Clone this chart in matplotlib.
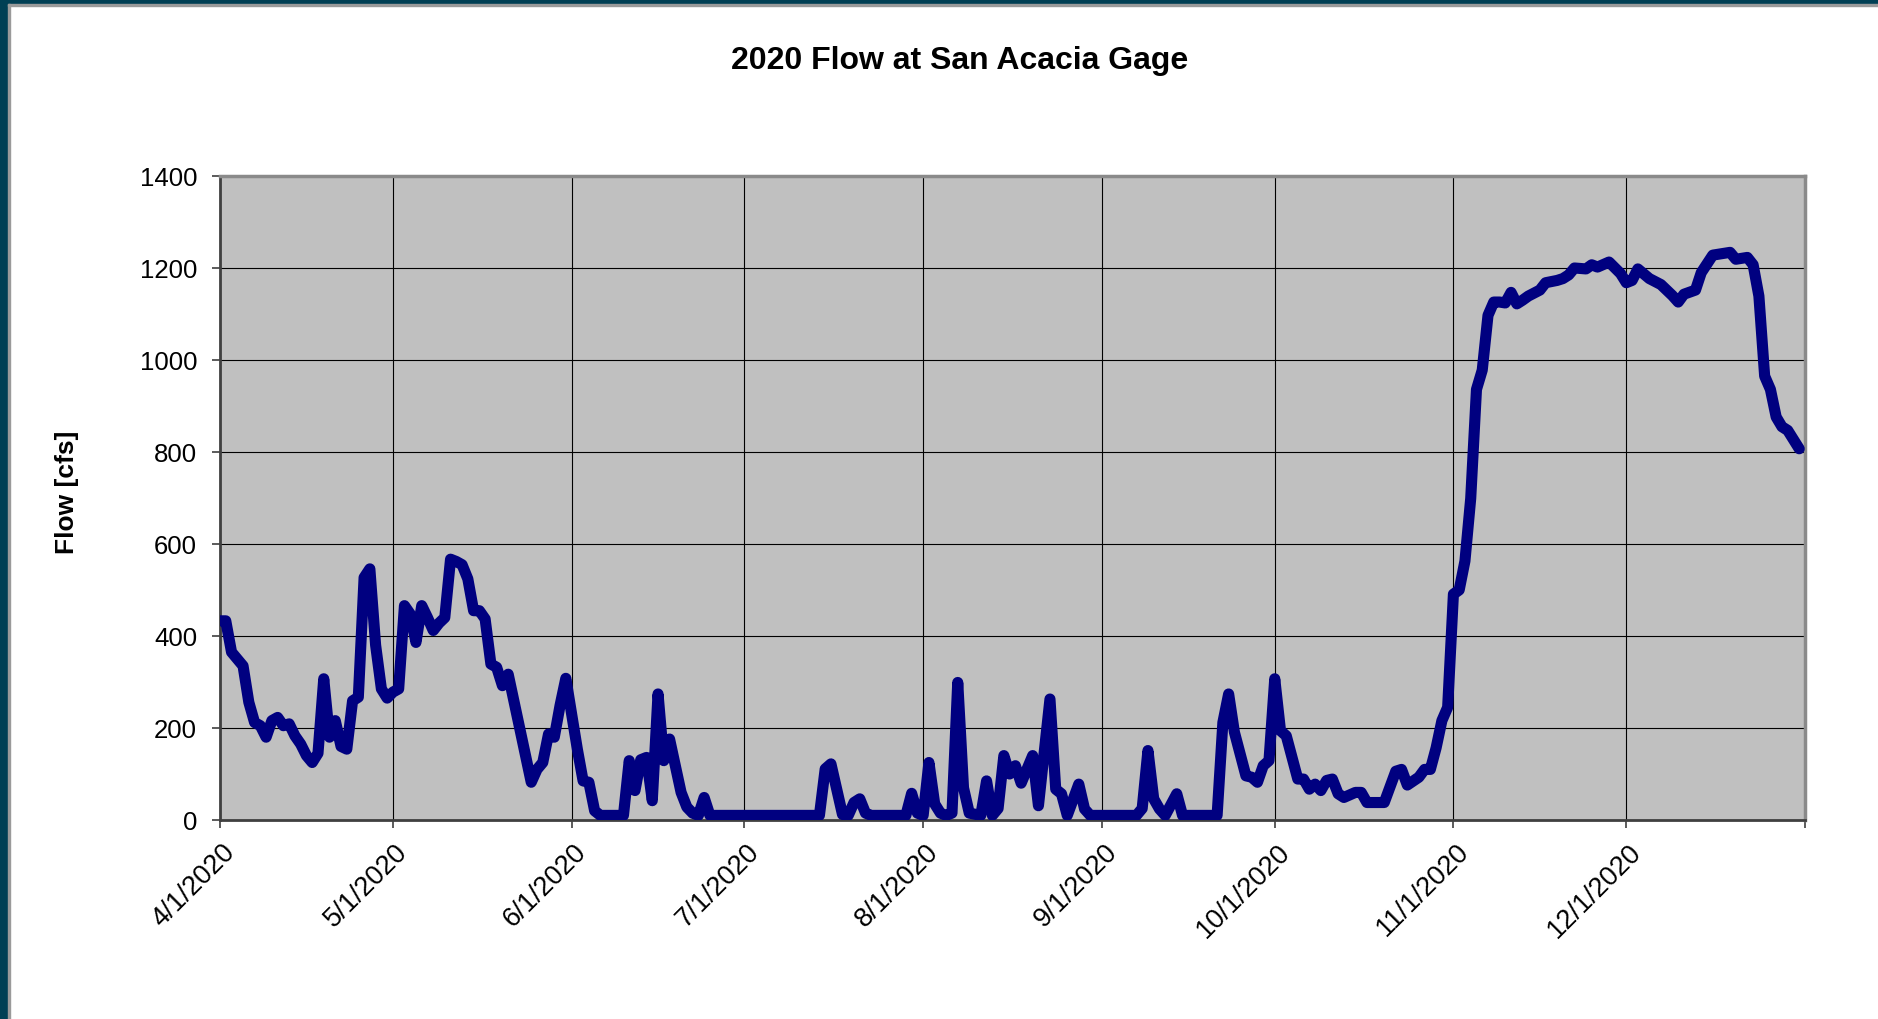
import numpy as np
import pandas as pd
import matplotlib
matplotlib.use("Agg")
import matplotlib.pyplot as plt
import matplotlib.transforms as mtransforms
from matplotlib.patches import Rectangle

# Daily flow (days since 4/1/2020, cfs)
day_offset = [0, 1, 2, 3, 4, 5, 6, 7, 8, 9, 10, 11, 12, 13, 14, 15, 16, 17, 18, 19,
              20, 21, 22, 23, 24, 25, 26, 27, 28, 29, 30, 31, 32, 33, 34, 35, 36, 37, 38, 39,
              40, 41, 42, 43, 44, 45, 46, 47, 48, 49, 50, 54, 55, 56, 57, 58, 59, 60, 62, 63,
              64, 65, 66, 70, 71, 72, 73, 74, 75, 76, 77, 78, 80, 81, 82, 83, 84, 85, 104, 105,
              106, 108, 109, 110, 111, 112, 113, 119, 120, 121, 122, 123, 124, 125, 126, 127, 128, 129, 130, 132,
              133, 134, 135, 136, 137, 138, 139, 141, 142, 144, 145, 146, 147, 149, 150, 151, 159, 160, 161, 162,
              163, 164, 166, 167, 173, 174, 175, 176, 178, 179, 180, 181, 182, 183, 184, 185, 187, 188, 189, 190,
              191, 192, 193, 194, 195, 197, 198, 199, 202, 204, 205, 206, 208, 209, 210, 211, 212, 213, 214, 215,
              216, 217, 218, 219, 220, 221, 222, 223, 224, 225, 226, 227, 229, 230, 232, 233, 234, 235, 237, 238,
              239, 241, 243, 244, 245, 246, 248, 250, 251, 252, 253, 254, 256, 257, 259, 262, 263, 265, 266, 267,
              268, 269, 270, 271, 272, 274]
flow_cfs = [433, 433, 365, 350, 335, 256, 212, 205, 180, 216, 223, 205, 209, 183, 165, 140, 125, 145, 307, 180,
            216, 160, 154, 259, 267, 527, 546, 380, 285, 265, 278, 285, 466, 448, 386, 466, 440, 412, 428, 440,
            567, 562, 555, 524, 455, 455, 437, 339, 332, 292, 317, 82, 110, 125, 187, 180, 249, 308, 154, 85,
            82, 20, 10, 10, 129, 64, 131, 136, 42, 274, 129, 176, 60, 28, 15, 10, 49, 10, 10, 111,
            122, 12, 10, 38, 46, 15, 10, 10, 58, 15, 10, 125, 35, 15, 10, 15, 299, 70, 15, 10,
            85, 10, 25, 140, 100, 118, 80, 140, 31, 263, 67, 57, 10, 78, 24, 10, 10, 25, 151, 46,
            24, 10, 57, 10, 10, 212, 274, 191, 96, 93, 82, 118, 129, 307, 194, 183, 89, 89, 67, 78,
            64, 86, 89, 57, 49, 60, 60, 38, 38, 106, 110, 76, 93, 110, 110, 157, 216, 245, 491, 500,
            563, 699, 936, 978, 1097, 1126, 1126, 1124, 1147, 1122, 1130, 1139, 1152, 1168, 1173, 1177, 1185, 1200, 1198, 1207,
            1202, 1213, 1188, 1168, 1173, 1198, 1177, 1164, 1152, 1140, 1126, 1143, 1152, 1190, 1228, 1234, 1219, 1223, 1207, 1139,
            965, 936, 876, 855, 847, 807]

month_starts = ['2020-04-01', '2020-05-01', '2020-06-01', '2020-07-01', '2020-08-01',
                '2020-09-01', '2020-10-01', '2020-11-01', '2020-12-01', '2021-01-01']
month_labels = ['4/1/2020', '5/1/2020', '6/1/2020', '7/1/2020', '8/1/2020',
                '9/1/2020', '10/1/2020', '11/1/2020', '12/1/2020', '']
y_ticks = [0, 200, 400, 600, 800, 1000, 1200, 1400]

start = pd.Timestamp('2020-04-01')
dates = start + pd.to_timedelta(day_offset, unit='D')
ticks = pd.to_datetime(month_starts)

plt.rcParams['font.family'] = ['Liberation Sans', 'DejaVu Sans']

fig = plt.figure(figsize=(18.78, 10.2), dpi=100)
ax = fig.add_axes([220 / 1878, 1 - 821 / 1020, 1585 / 1878, 644 / 1020])

# teal frame on the top and left edge of the slide
fig.patches.append(Rectangle((0, 0), 8 / 1878, 1, transform=fig.transFigure,
                             color='#003f54', zorder=0))
fig.patches.append(Rectangle((0, 1 - 5 / 1020), 1, 5 / 1020, transform=fig.transFigure,
                             color='#003f54', zorder=0))
fig.patches.append(Rectangle((8 / 1878, 0), 1.5 / 1878, 1 - 5 / 1020, transform=fig.transFigure,
                             color='#9a9a9a', zorder=0))
fig.patches.append(Rectangle((8 / 1878, 1 - 6.5 / 1020), 1, 1.5 / 1020, transform=fig.transFigure,
                             color='#9a9a9a', zorder=0))

ax.set_facecolor('#c0c0c0')
ax.plot(dates, flow_cfs, color='#000080', lw=8, solid_joinstyle='round',
        solid_capstyle='round', zorder=3)

ax.set_xlim(ticks[0], ticks[-1])
ax.set_ylim(0, 1400)
ax.set_yticks(y_ticks)
ax.set_xticks(ticks)
ax.set_xticklabels(month_labels)

ax.grid(True, color='black', lw=0.8)
ax.set_axisbelow(True)

ax.tick_params(axis='y', length=6, width=1.2, color='#404040', pad=10.5, labelsize=18.5)
ax.tick_params(axis='x', length=6, width=1.2, color='#404040', pad=7, labelsize=19.5)

offset = mtransforms.ScaledTranslation(0.02, 0, fig.dpi_scale_trans)
for lbl in ax.get_xticklabels():
    lbl.set_rotation(45)
    lbl.set_ha('right')
    lbl.set_va('top')
    lbl.set_rotation_mode('anchor')
    lbl.set_transform(lbl.get_transform() + offset)

for side in ['left', 'bottom']:
    ax.spines[side].set_color('#404040')
    ax.spines[side].set_linewidth(2)
for side in ['top', 'right']:
    ax.spines[side].set_color('#8a8a8a')
    ax.spines[side].set_linewidth(2.5)

fig.text(960 / 1878, 1 - 61 / 1020, '2020 Flow at San Acacia Gage', ha='center', va='center',
         fontsize=23, fontweight='bold')
fig.text(67 / 1878, 1 - 492 / 1020, 'Flow [cfs]', rotation=90, ha='center', va='center',
         fontsize=19, fontweight='bold')

fig.savefig('out.png', dpi=100, facecolor='white')
